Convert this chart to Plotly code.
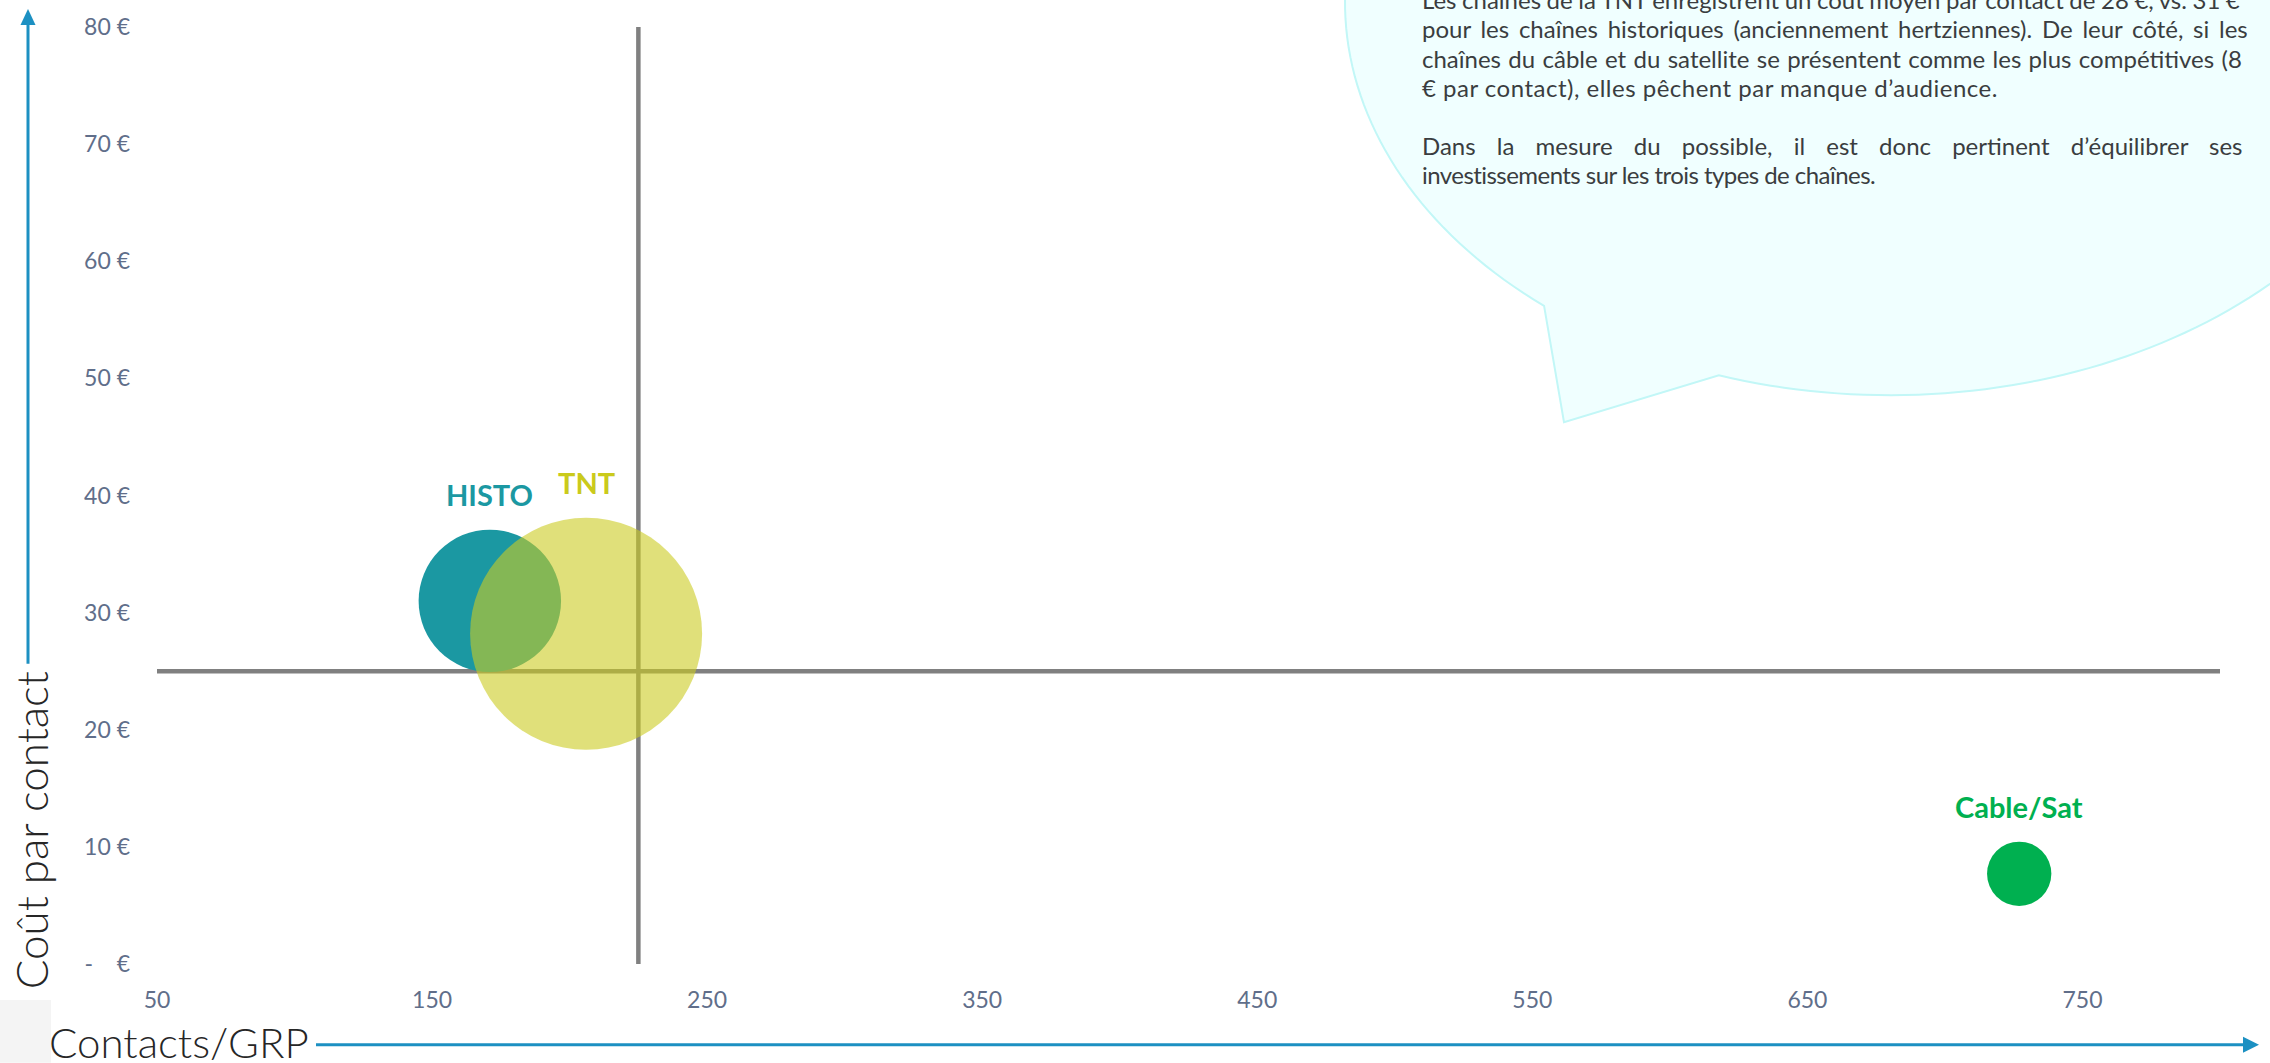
import numpy as np
import plotly.graph_objects as go

# ---------------- data ----------------
categories = ["HISTO", "TNT", "Cable/Sat"]
contacts_per_grp = [171, 206, 727]          # x : Contacts/GRP
cost_per_contact = [31.0, 28.2, 7.7]        # y : coût par contact (€)
bubble_weight = [26, 69, 5.3]               # bubble size (relative weight)

x_tickvals = [50, 150, 250, 350, 450, 550, 650, 750]
y_tickvals = [0, 10, 20, 30, 40, 50, 60, 70, 80]
y_ticktext = ["-\u00a0\u00a0\u00a0\u00a0€", "10 €", "20 €", "30 €", "40 €",
              "50 €", "60 €", "70 €", "80 €"]

x_axis_title = "Contacts/GRP"
y_axis_title = "Coût par contact"

quadrant_x = 225
quadrant_y = 25
x_range = [50, 800]
y_range = [0, 80]

callout_lines = [
    "Les chaînes de la TNT enregistrent un coût moyen par contact de 28 €, vs. 31 €",
    "pour les chaînes historiques (anciennement hertziennes). De leur côté, si les",
    "chaînes du câble et du satellite se présentent comme les plus compétitives (8",
    "€ par contact), elles pêchent par manque d’audience.",
    "",
    "Dans la mesure du possible, il est donc pertinent d’équilibrer ses",
    "investissements sur les trois types de chaînes.",
]

# ---------------- styles ----------------
W, H = 2270, 1063
PL, PR, PT, PB = 157, 2220, 25, 964
FONT = "Lato"
bubble_colors = ["#1B98A2", "rgba(203,203,33,0.6)", "#00B050"]
label_colors = ["#1B98A2", "#CACA1C", "#00B050"]
tick_color = "rgb(96,110,138)"
title_color = "#262626"
text_color = "#3A3D40"
blue = "#1C90C2"
gray = "#808080"
max_radius_px = 116
sizeref = max(bubble_weight) / (2.0 * max_radius_px ** 2)

# per-line spacing tweaks to imitate the justified paragraph
word_spacing = [-0.6, 3.6, 1.2, 0, 0, 15, 0]
letter_spacing = [0, 0, 0, 0.5, 0, 0, -0.55]


def P(px, py):
    return (px - PL) / (PR - PL), (PB - py) / (PB - PT)


def radius_px(v):
    return np.sqrt(v / (2.0 * sizeref))


fig = go.Figure()
fig.add_trace(go.Scatter(
    x=contacts_per_grp, y=cost_per_contact, mode="markers",
    marker=dict(size=bubble_weight, sizemode="area", sizeref=sizeref, opacity=1,
                color=bubble_colors, line=dict(width=0)),
    cliponaxis=False, showlegend=False, hoverinfo="skip"))

shapes = []
annotations = []

# speech bubble (ellipse callout)
ecx, ecy, erx, ery = 1890, 0, 545, 394
t_start, t_end = np.deg2rad(108.3), np.deg2rad(129.4 - 360)
tip = (1564, 421)
ts = np.linspace(t_start, t_end, 240)
pts = [(ecx + erx * np.cos(t), ecy + ery * np.sin(t)) for t in ts]
path_pts = [pts[-1], tip] + pts
path = "M " + " L ".join("{:.5f},{:.5f}".format(*P(px, py)) for px, py in path_pts) + " Z"
shapes.append(dict(type="path", xref="paper", yref="paper", path=path,
                   fillcolor="#F0FFFF", line=dict(color="#C2F7F7", width=2),
                   layer="below"))

# light gray block bottom-left
x0, y0 = P(0, 1063)
x1, y1 = P(51, 1000)
shapes.append(dict(type="rect", xref="paper", yref="paper", x0=x0, y0=y0, x1=x1, y1=y1,
                   fillcolor="#F4F4F4", line=dict(width=0), layer="below"))

# quadrant lines
shapes.append(dict(type="line", xref="x", yref="y", x0=x_range[0], x1=x_range[1],
                   y0=quadrant_y, y1=quadrant_y, line=dict(color=gray, width=4.5), layer="below"))
shapes.append(dict(type="line", xref="x", yref="y", x0=quadrant_x, x1=quadrant_x,
                   y0=y_range[0], y1=y_range[1], line=dict(color=gray, width=4.5), layer="below"))

# blue axis arrows
ax0 = P(28, 663); ax1 = P(28, 20)
shapes.append(dict(type="line", xref="paper", yref="paper", x0=ax0[0], y0=ax0[1],
                   x1=ax1[0], y1=ax1[1], line=dict(color=blue, width=3)))
tri = [P(28, 7), P(20.5, 23), P(35.5, 23)]
shapes.append(dict(type="path", xref="paper", yref="paper",
                   path="M " + " L ".join("{:.5f},{:.5f}".format(*p) for p in tri) + " Z",
                   fillcolor=blue, line=dict(width=0)))
hx0 = P(316, 1045); hx1 = P(2246, 1045)
shapes.append(dict(type="line", xref="paper", yref="paper", x0=hx0[0], y0=hx0[1],
                   x1=hx1[0], y1=hx1[1], line=dict(color=blue, width=3)))
tri = [P(2259, 1045), P(2243, 1037), P(2243, 1053)]
shapes.append(dict(type="path", xref="paper", yref="paper",
                   path="M " + " L ".join("{:.5f},{:.5f}".format(*p) for p in tri) + " Z",
                   fillcolor=blue, line=dict(width=0)))

# bubble labels
for cat, xv, yv, wv, col in zip(categories, contacts_per_grp, cost_per_contact,
                                bubble_weight, label_colors):
    annotations.append(dict(x=xv, y=yv, xref="x", yref="y", text="<b>" + cat + "</b>",
                            showarrow=False, yanchor="middle", xanchor="center",
                            yshift=float(radius_px(wv)) + 35,
                            font=dict(family=FONT, size=29, color=col)))

# callout text
line_h = 29.2
for i, line in enumerate(callout_lines):
    if not line:
        continue
    px, py = P(1420, -2.2 + i * line_h)
    txt = '<span style="word-spacing:{}px;letter-spacing:{}px">{}</span>'.format(
        word_spacing[i], letter_spacing[i], line)
    annotations.append(dict(x=px, y=py, xref="paper", yref="paper", text=txt,
                            showarrow=False, xanchor="left", yanchor="middle",
                            font=dict(family=FONT, size=24, color=text_color)))

# axis titles
px, py = P(31, 830)
annotations.append(dict(x=px, y=py, xref="paper", yref="paper", text=y_axis_title,
                        textangle=-90, showarrow=False, xanchor="center", yanchor="middle",
                        font=dict(family=FONT, size=44, color=title_color, weight=300)))
px, py = P(47, 1042)
annotations.append(dict(x=px, y=py, xref="paper", yref="paper", text=x_axis_title,
                        showarrow=False, xanchor="left", yanchor="middle",
                        font=dict(family=FONT, size=42, color=title_color, weight=300)))

fig.update_layout(
    width=W, height=H, autosize=False,
    margin=dict(l=PL, r=W - PR, t=PT, b=H - PB, pad=0),
    paper_bgcolor="white", plot_bgcolor="rgba(0,0,0,0)",
    shapes=shapes, annotations=annotations, showlegend=False,
    xaxis=dict(range=x_range, tickvals=x_tickvals, showgrid=False, zeroline=False,
               showline=False, ticks="", ticklabelstandoff=20,
               tickfont=dict(family=FONT, size=23, color=tick_color)),
    yaxis=dict(range=y_range, tickvals=y_tickvals, ticktext=y_ticktext, showgrid=False,
               zeroline=False, showline=False, ticks="", ticklabelstandoff=26,
               tickfont=dict(family=FONT, size=23, color=tick_color)),
)

fig.write_html("out.html")
